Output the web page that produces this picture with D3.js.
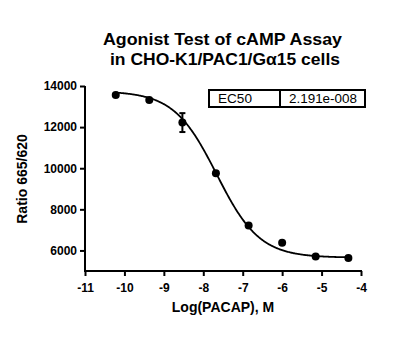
<!DOCTYPE html>
<html><head><meta charset="utf-8">
<script src="https://cdn.jsdelivr.net/npm/d3@7"></script>
<style>body{margin:0;background:#fff}svg{display:block}text{font-family:"Liberation Sans",Arial,sans-serif}</style>
</head><body>
<svg id="c" width="414" height="352"></svg>
<script>
const titleLines = ["Agonist Test of cAMP Assay", "in CHO-K1/PAC1/G\u03b115 cells"];
const logConc = [-10.22, -9.37, -8.53, -7.68, -6.85, -6.0, -5.15, -4.32];
const ratio = [13560, 13320, 12220, 9760, 7210, 6380, 5710, 5630];
const errSD = [0, 0, 460, 0, 0, 0, 0, 0];
const xTicks = [-11, -10, -9, -8, -7, -6, -5, -4];
const yTicks = [6000, 8000, 10000, 12000, 14000];
// fitted 4PL parameters (EC50 shown in the box)
const fitTop = 13750, fitBottom = 5650, fitHill = 0.8, fitEC50 = 2.191e-8;
const ec50Label = ["EC50", "2.191e-008"];

const svg = d3.select("#c");
const x = d3.scaleLinear().domain([-11, -4]).range([85, 361]);
const y = d3.scaleLinear().domain([5000, 14000]).range([271, 86]);

// title
const titleCenters = [222.5, 225], titleWidths = [239, 230];
svg.append("g").selectAll("text").data(titleLines).join("text")
  .attr("x", (d,i) => titleCenters[i]).attr("y", (d,i) => 45 + i*20)
  .attr("text-anchor", "middle").attr("font-weight", "bold").attr("font-size", 16.5)
  .attr("textLength", (d,i) => titleWidths[i]).attr("lengthAdjust", "spacingAndGlyphs")
  .text(d => d);

// axes
const fmt = d => String(d).replace("\u2212", "-");
const xAxis = d3.axisBottom(x).tickValues(xTicks).tickFormat(fmt).tickSize(5).tickSizeOuter(0);
const gx = svg.append("g").attr("transform", "translate(0,271)").call(xAxis);
const yAxis = d3.axisLeft(y).tickValues(yTicks).tickFormat(fmt).tickSize(5).tickSizeOuter(0);
const gy = svg.append("g").attr("transform", "translate(85,0)").call(yAxis);
[gx, gy].forEach(g => {
  g.select(".domain").attr("stroke", "#000").attr("stroke-width", 2);
  g.selectAll(".tick line").attr("stroke", "#000").attr("stroke-width", 2);
  g.selectAll(".tick text").attr("fill", "#000").attr("font-weight", "bold").attr("font-size", 12)
    .attr("font-family", '"Liberation Sans",Arial,sans-serif');
});
gx.select(".domain").attr("d", "M84,0H362");
gy.select(".domain").attr("d", "M0,86V272");
gx.selectAll(".tick text").attr("dy", "1.05em");

// axis titles
svg.append("text").attr("x", 223).attr("y", 312).attr("text-anchor", "middle")
  .attr("font-weight", "bold").attr("font-size", 14).text("Log(PACAP), M");
svg.append("text").attr("transform", "translate(27,179) rotate(-90)").attr("text-anchor", "middle")
  .attr("font-weight", "bold").attr("font-size", 14).text("Ratio 665/620");

// fitted curve
const logEC = Math.log10(fitEC50);
const xs = d3.range(d3.min(logConc), d3.max(logConc) + 0.001, 0.02);
const curve = xs.map(v => [v, fitBottom + (fitTop - fitBottom) / (1 + Math.pow(10, (v - logEC) * fitHill))]);
svg.append("path").datum(curve).attr("fill", "none").attr("stroke", "#000").attr("stroke-width", 1.8)
  .attr("d", d3.line().x(d => x(d[0])).y(d => y(d[1])));

// error bars
const pts = logConc.map((v,i) => ({x: v, y: ratio[i], e: errSD[i]}));
const eg = svg.append("g").attr("stroke", "#000").attr("stroke-width", 2);
pts.filter(d => d.e > 0).forEach(d => {
  eg.append("line").attr("x1", x(d.x)).attr("x2", x(d.x)).attr("y1", y(d.y - d.e)).attr("y2", y(d.y + d.e));
  eg.append("line").attr("x1", x(d.x) - 3).attr("x2", x(d.x) + 3).attr("y1", y(d.y - d.e)).attr("y2", y(d.y - d.e));
  eg.append("line").attr("x1", x(d.x) - 3).attr("x2", x(d.x) + 3).attr("y1", y(d.y + d.e)).attr("y2", y(d.y + d.e));
});
// points
svg.append("g").selectAll("circle").data(pts).join("circle")
  .attr("cx", d => x(d.x)).attr("cy", d => y(d.y)).attr("r", 4).attr("fill", "#000");

// EC50 box
const bx = 209, by = 90, bw = 156, bh = 17, bdiv = 280;
const box = svg.append("g");
box.append("rect").attr("x", bx).attr("y", by).attr("width", bw).attr("height", bh)
  .attr("fill", "#fff").attr("stroke", "#000").attr("stroke-width", 2);
box.append("line").attr("x1", bdiv).attr("x2", bdiv).attr("y1", by).attr("y2", by + bh)
  .attr("stroke", "#000").attr("stroke-width", 2);
box.append("text").attr("x", 218).attr("y", by + 13).attr("font-size", 12.5)
  .attr("textLength", 34).attr("lengthAdjust", "spacingAndGlyphs").text(ec50Label[0]);
box.append("text").attr("x", 289).attr("y", by + 13).attr("font-size", 12.5)
  .attr("textLength", 68).attr("lengthAdjust", "spacingAndGlyphs").text(ec50Label[1]);
</script>
</body></html>
